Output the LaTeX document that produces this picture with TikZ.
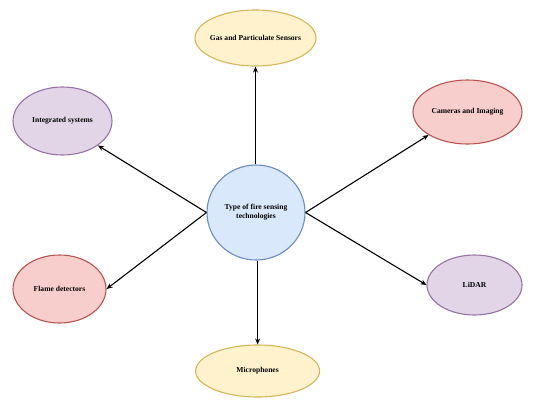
\documentclass[tikz,border=0pt]{standalone}
\usepackage{fontspec}
\setmainfont{Liberation Serif}
\usetikzlibrary{shapes.geometric,arrows.meta}
\definecolor{yfill}{HTML}{FFF2CC}\definecolor{ydraw}{HTML}{D6B656}
\definecolor{rfill}{HTML}{F8CECC}\definecolor{rdraw}{HTML}{B85450}
\definecolor{pfill}{HTML}{E1D5E7}\definecolor{pdraw}{HTML}{9673A6}
\definecolor{bfill}{HTML}{DAE8FC}\definecolor{bdraw}{HTML}{6C8EBF}
\tikzset{
  oval/.style={ellipse, inner sep=0pt, line width=1.1bp, align=center,
    font=\fontsize{7.6}{9}\selectfont\bfseries},
  yel/.style={oval, fill=yfill, draw=ydraw},
  red/.style={oval, fill=rfill, draw=rdraw},
  pur/.style={oval, fill=pfill, draw=pdraw},
  blu/.style={oval, fill=bfill, draw=bdraw},
  conn/.style={line width=1.1bp, -{Stealth[length=6bp,width=5bp]}}
}
\begin{document}
\begin{tikzpicture}[x=1bp,y=-1bp]
\useasboundingbox (0,0) rectangle (543,407);
\node[blu, minimum width=98bp, minimum height=95bp] (c) at (256,212.5) {Type of fire sensing\\technologies};
\node[yel, inner xsep=-4.5bp, minimum width=121bp, minimum height=56bp] (gas) at (255.5,38) {Gas and Particulate Sensors};
\node[red, minimum width=109bp, minimum height=64bp] (cam) at (467.5,112) {Cameras and Imaging};
\node[pur, minimum width=99bp, minimum height=68bp] (int) at (62.5,121) {Integrated systems};
\node[red, minimum width=93bp, minimum height=68bp] (fl) at (59.5,289) {Flame detectors};
\node[pur, minimum width=95bp, minimum height=60bp] (li) at (474.5,285) {LiDAR};
\node[yel, minimum width=124bp, minimum height=52bp] (mic) at (257.6,371) {Microphones};
\draw[conn] (c.north -| gas.south) -- (gas.south);
\draw[conn] (c.south -| mic.north) -- (mic.north);
\draw[conn] (c.west) -- (int.south east);
\draw[conn] (c.west) -- (fl.east);
\draw[conn] (c.east) -- (cam.south west);
\draw[conn] (c.east) -- (li.west);
\end{tikzpicture}
\end{document}
